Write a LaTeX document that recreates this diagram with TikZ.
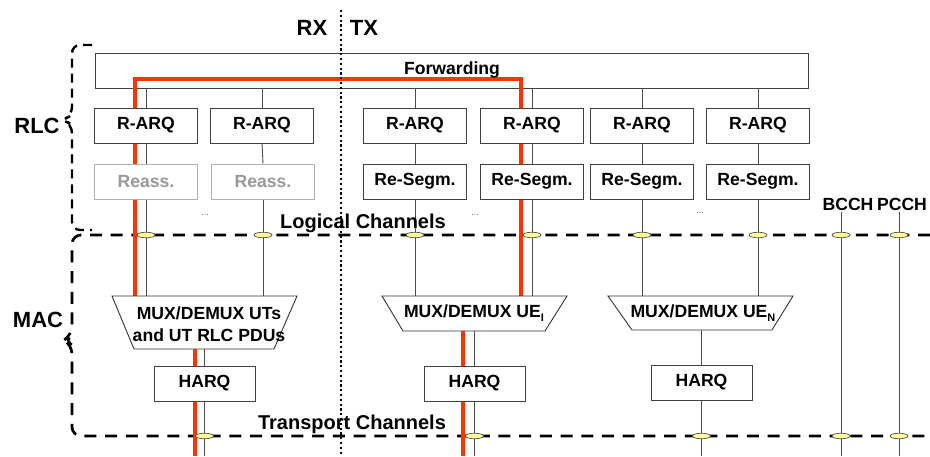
\documentclass[tikz,border=0pt]{standalone}
\usepackage{fontspec}
\setmainfont{Liberation Sans}
\usetikzlibrary{shapes.geometric}
\definecolor{route}{HTML}{FF3300}
\definecolor{sapfill}{HTML}{FFFF99}
\begin{document}
\begin{tikzpicture}[x=1pt,y=-1pt,
  boxtxt/.style={font=\fontsize{17.6}{20}\selectfont\bfseries},
  box/.style={boxtxt, draw=black!75, fill=white, line width=0.9pt,
    minimum width=103pt, minimum height=35pt, inner sep=0pt},
  greybox/.style={box, draw=black!30, text=black!40},
  harqbox/.style={box, minimum width=101pt},
  wire/.style={draw=black!70, line width=0.9pt},
  chan/.style={line width=2.7pt, dash pattern=on 12pt off 8.7pt, rounded corners=9pt},
  layerbrace/.style={line width=2.4pt, dash pattern=on 9pt off 6pt, rounded corners=8pt},
  routeline/.style={draw=route, line width=3.8pt},
  sap/.style={ellipse, draw=black!70, fill=sapfill, minimum width=18pt,
    minimum height=5.5pt, inner sep=0pt, line width=0.7pt},
  muxshape/.style={draw=black!80, fill=white, line width=0.9pt},
  biglab/.style={font=\fontsize{22}{24}\selectfont\bfseries},
  chanlab/.style={font=\fontsize{20}{22}\selectfont\bfseries},
  dots/.style={font=\fontsize{9}{10}\selectfont, text=black!60}
]
\useasboundingbox (0,0) rectangle (930,456);

% reference coordinates
\coordinate (bot) at (0,456);
\coordinate (m1t) at (204,296);
\coordinate (m1b) at (204,349);
\coordinate (m2t) at (474,296);
\coordinate (m2b) at (474,331);
\coordinate (m3t) at (701,296);
\coordinate (m3b) at (701,330);

% channel lines with the MAC brace, and the RLC brace
\draw[chan] (930,235) -- (72,235) -- (72,335) -- (64,340) -- (72,345) -- (72,436) -- (930,436);
\draw[layerbrace] (92,45) -- (72,45) -- (72,115) -- (63,120) -- (72,125) -- (72,230) -- (92,230);

% forwarding entity
\node[box, minimum width=713pt] (fwd) at (451.5,70.5) {};

% RLC entities
\node[box]     (ra1) at (146,125.5) {R-ARQ};
\node[box]     (ra2) at (262,125.5) {R-ARQ};
\node[box]     (ra3) at (415,125.5) {R-ARQ};
\node[box]     (ra4) at (532,125.5) {R-ARQ};
\node[box]     (ra5) at (642,125.5) {R-ARQ};
\node[box]     (ra6) at (758,125.5) {R-ARQ};
\node[greybox] (rs1) at (146,181.5) {Reass.};
\node[greybox] (rs2) at (263,181.5) {Reass.};
\node[box]     (rs3) at (415,181.5) {Re-Segm.};
\node[box]     (rs4) at (532,181.5) {Re-Segm.};
\node[box]     (rs5) at (642,181.5) {Re-Segm.};
\node[box]     (rs6) at (758,181.5) {Re-Segm.};

% HARQ entities
\node[harqbox] (h1) at (204.5,383.5) {HARQ};
\node[harqbox] (h2) at (474.5,383.5) {HARQ};
\node[harqbox] (h3) at (701.5,382.5) {HARQ};

% vertical wiring between the layers
\foreach \i/\m in {1/m1t,2/m1t,3/m2t,4/m2t,5/m3t,6/m3t}{
  \draw[wire] (ra\i.north) -- (ra\i.north |- fwd.south);
  \draw[wire] (ra\i.south) -- (rs\i.north);
  \draw[wire] (rs\i.south) -- (rs\i.south |- \m);
}
\draw[wire] (h1.north) -- (h1.north |- m1b);
\draw[wire] (h2.north) -- (h2.north |- m2b);
\draw[wire] (h3.north) -- (h3.north |- m3b);
\draw[wire] (h1.south) -- (h1.south |- bot);
\draw[wire] (h2.south) -- (h2.south |- bot);
\draw[wire] (h3.south) -- (h3.south |- bot);

% broadcast and paging channels
\coordinate (bcchtop) at (841,212);
\coordinate (pcchtop) at (899,212);
\draw[wire] (bcchtop) -- (bcchtop |- bot);
\draw[wire] (pcchtop) -- (pcchtop |- bot);
\node[boxtxt] (bcch) at (848,204) {BCCH};
\node[boxtxt] (pcch) at (902,204) {PCCH};

% forwarded traffic path
\coordinate (redin)  at (135,296);
\coordinate (redout) at (521,296);
\coordinate (redlow1) at (195,349);
\coordinate (redlow2) at (463,331);
\draw[routeline] (redin) -- (135,79) -| (redout);
\draw[routeline] (redlow1) -- (redlow1 |- bot);
\draw[routeline] (redlow2) -- (redlow2 |- bot);

% redraw boxes above the traffic path
\foreach \n in {ra1,ra2,ra3,ra4,ra5,ra6,rs3,rs4,rs5,rs6}{
  \node[box] at (\n) {};
}
\node[boxtxt] at (ra1) {R-ARQ};
\node[boxtxt] at (ra2) {R-ARQ};
\node[boxtxt] at (ra3) {R-ARQ};
\node[boxtxt] at (ra4) {R-ARQ};
\node[boxtxt] at (ra5) {R-ARQ};
\node[boxtxt] at (ra6) {R-ARQ};
\node[greybox] at (rs1) {Reass.};
\node[greybox] at (rs2) {Reass.};
\node[boxtxt] at (rs3) {Re-Segm.};
\node[boxtxt] at (rs4) {Re-Segm.};
\node[boxtxt] at (rs5) {Re-Segm.};
\node[boxtxt] at (rs6) {Re-Segm.};
\node[harqbox] at (h1) {HARQ};
\node[harqbox] at (h2) {HARQ};
\node[harqbox] at (h3) {HARQ};

% multiplexers
\draw[muxshape] (112,296) -- (297,296) -- (274,349) -- (134,349) -- cycle;
\draw[muxshape] (382,296) -- (567,296) -- (545,331) -- (403,331) -- cycle;
\draw[muxshape] (608,296) -- (793,296) -- (772,330) -- (632,330) -- cycle;
\node[align=center, font=\fontsize{17.6}{22}\selectfont\bfseries] (mux1) at (209,324)
  {MUX/DEMUX UTs\\and UT RLC PDUs};
\node[boxtxt] (mux2) at (474,313) {MUX/DEMUX UE\raisebox{-0.45ex}{\fontsize{11}{12}\selectfont I}};
\node[boxtxt] (mux3) at (703,313) {MUX/DEMUX UE\raisebox{-0.45ex}{\fontsize{11}{12}\selectfont N}};

% service access points on the logical channels
\foreach \n in {rs1,rs2,rs3,rs4,rs5,rs6}{
  \node[sap] at (\n.south |- 0,235) {};
}
\node[sap] at (bcchtop |- 0,235) {};
\node[sap] at (pcchtop |- 0,235) {};
% service access points on the transport channels
\node[sap] at (h1.south |- 0,436) {};
\node[sap] at (h2.south |- 0,436) {};
\node[sap] at (h3.south |- 0,436) {};
\node[sap] at (bcchtop |- 0,436) {};
\node[sap] at (pcchtop |- 0,436) {};

% receive / transmit split
\draw[line width=2.2pt, dash pattern=on 2.2pt off 2.6pt] (341,10) -- (341,456);

% labels
\node[boxtxt] (fwdlab) at (452,70) {Forwarding};
\node[biglab] (rx) at (312,28) {RX};
\node[biglab] (tx) at (364,28) {TX};
\node[biglab] (rlc) at (37,126) {RLC};
\node[biglab] (mac) at (38,320) {MAC};
\node[chanlab] (logch) at (363,223) {Logical Channels};
\node[chanlab] (trch) at (352,424) {Transport Channels};
\node[dots] at (205,215) {...};
\node[dots] at (475,215) {...};
\node[dots] at (700,213) {...};
\end{tikzpicture}
\end{document}
